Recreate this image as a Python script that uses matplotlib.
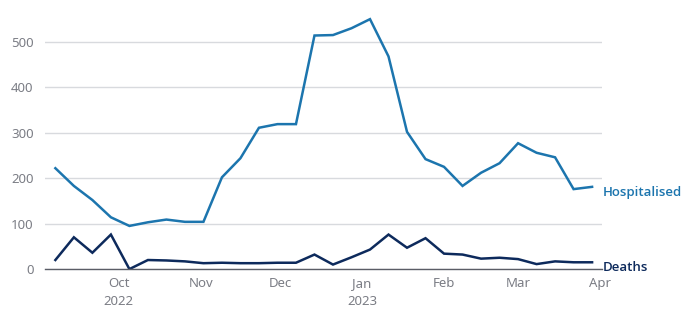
import numpy as np
import pandas as pd
import matplotlib
matplotlib.use("Agg")
import matplotlib.pyplot as plt
import matplotlib.dates as mdates

# weekly counts, first week starting 7 Sep 2022
weeks = pd.date_range("2022-09-07", periods=30, freq="7D")
hospitalised = [222, 183, 152, 114, 95, 103, 109, 104, 104, 202,
                244, 311, 319, 319, 514, 515, 530, 550, 468, 302,
                242, 225, 183, 212, 233, 277, 256, 246, 176, 181]
deaths = [20, 70, 36, 76, 0, 20, 19, 17, 13, 14,
          13, 13, 14, 14, 32, 10, 26, 43, 76, 47,
          68, 34, 32, 23, 25, 22, 11, 17, 15, 15]

tick_dates = pd.to_datetime(["2022-10-01", "2022-11-01", "2022-12-01", "2023-01-01",
                             "2023-02-01", "2023-03-01", "2023-04-01"])
tick_labels = ["Oct\n2022", "Nov", "Dec", "Jan\n2023", "Feb", "Mar", "Apr"]
y_ticks = [0, 100, 200, 300, 400, 500]

blue = "#1c75ae"
navy = "#0d2a5c"
grey = "#7b7d85"

plt.rcParams['font.family'] = ['Noto Sans', 'DejaVu Sans']

fig = plt.figure(figsize=(7, 3.25), dpi=100)
ax = fig.add_axes([0.064, 0.172, 0.796, 0.825])

ax.plot(weeks, hospitalised, color=blue, lw=1.8, solid_joinstyle="miter")
ax.plot(weeks, deaths, color=navy, lw=1.8, solid_joinstyle="miter")

ax.set_xlim(pd.Timestamp("2022-09-03"), pd.Timestamp("2023-04-01 18:00"))
ax.set_ylim(0, 590)

ax.set_yticks(y_ticks)
ax.set_xticks(tick_dates)
ax.set_xticklabels(tick_labels)
ax.tick_params(length=0, labelsize=9.5, colors=grey, pad=6)
ax.tick_params(axis="y", pad=8)
for lab in ax.get_xticklabels():
    lab.set_linespacing(1.45)

ax.grid(axis="y", color="#d8dade", lw=1)
ax.set_axisbelow(True)
for side in ["top", "right", "left"]:
    ax.spines[side].set_visible(False)
ax.spines["bottom"].set_color("#5a5d66")
ax.spines["bottom"].set_linewidth(1)

# series labels at the line ends
label_font = ["Open Sans", "DejaVu Sans"]
ax.text(1.002, hospitalised[-1] - 12, "Hospitalised", transform=ax.get_yaxis_transform(),
        color=blue, fontsize=9.5, family=label_font, fontweight="semibold",
        va="center", ha="left")
ax.text(1.002, 3, "Deaths", transform=ax.get_yaxis_transform(),
        color=navy, fontsize=9.5, family=label_font, fontweight="semibold",
        va="center", ha="left")

fig.savefig("out.png", dpi=100)
